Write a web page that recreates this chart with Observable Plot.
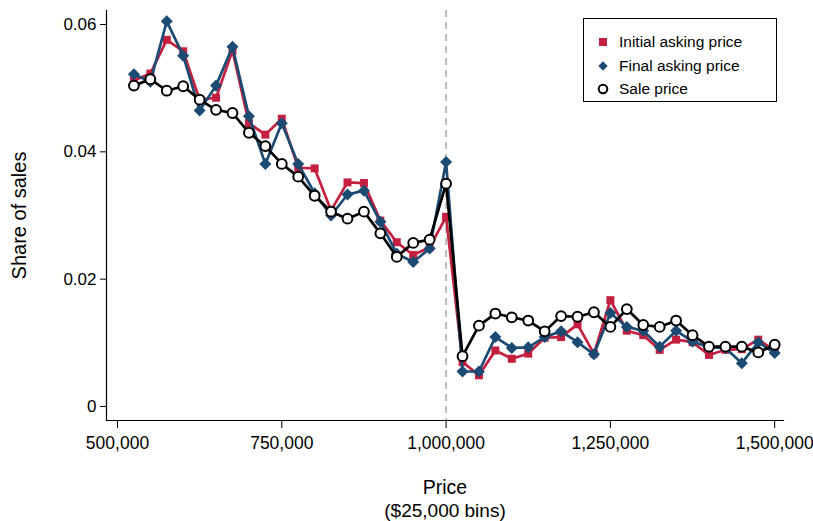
<!DOCTYPE html>
<html><head><meta charset="utf-8">
<script src="https://cdn.jsdelivr.net/npm/d3@7"></script>
<script src="https://cdn.jsdelivr.net/npm/@observablehq/plot@0.6"></script>
<style>
html,body{margin:0;padding:0;background:#fff;}
#wrap{position:relative;width:813px;height:521px;font-family:"Liberation Sans",Arial,Helvetica,sans-serif;}
#legend{position:absolute;left:583px;top:18px;width:194px;height:84px;border:1px solid #000;background:#fff;box-sizing:border-box;}
</style>
</head><body>
<div id="wrap"><div id="legend"></div></div>
<script>
const prices = [525000,550000,575000,600000,625000,650000,675000,700000,725000,750000,
  775000,800000,825000,850000,875000,900000,925000,950000,975000,1000000,
  1025000,1050000,1075000,1100000,1125000,1150000,1175000,1200000,1225000,1250000,
  1275000,1300000,1325000,1350000,1375000,1400000,1425000,1450000,1475000,1500000];
const initialAsking = [0.0512,0.0523,0.0576,0.0558,0.0482,0.0485,0.0559,0.0445,0.0427,0.0452,
  0.0375,0.0374,0.0308,0.0352,0.0351,0.0292,0.0258,0.0238,0.0250,0.0298,
  0.0070,0.0049,0.0088,0.0075,0.0083,0.0108,0.0109,0.0129,0.0083,0.0167,
  0.0119,0.0112,0.0089,0.0105,0.0101,0.0081,0.0089,0.0090,0.0105,0.0088];
const finalAsking = [0.0522,0.0510,0.0605,0.0551,0.0465,0.0504,0.0565,0.0456,0.0381,0.0445,
  0.0381,0.0335,0.0300,0.0333,0.0339,0.0290,0.0240,0.0227,0.0248,0.0384,
  0.0055,0.0055,0.0109,0.0092,0.0093,0.0109,0.0118,0.0101,0.0082,0.0147,
  0.0125,0.0119,0.0094,0.0119,0.0102,0.0093,0.0092,0.0068,0.0101,0.0084];
const salePrice = [0.0504,0.0514,0.0496,0.0503,0.0482,0.0466,0.0461,0.0430,0.0409,0.0381,
  0.0361,0.0331,0.0306,0.0295,0.0306,0.0272,0.0235,0.0257,0.0262,0.0350,
  0.0079,0.0127,0.0146,0.0140,0.0135,0.0118,0.0142,0.0141,0.0148,0.0125,
  0.0153,0.0128,0.0125,0.0135,0.0112,0.0094,0.0094,0.0094,0.0085,0.0097];
const seriesNames = ["Initial asking price","Final asking price","Sale price"];
const xTicks = [500000,750000,1000000,1250000,1500000];
const yTicks = [0,0.02,0.04,0.06];
const threshold = [1000000];
const xTitle = ["Price","($25,000 bins)"];
const yTitle = "Share of sales";

const RED = "#c41f3e", BLUE = "#1b4a73";
const toRows = vals => prices.map((p,i)=>({price:p, share:vals[i]}));
const ini = toRows(initialAsking), fin = toRows(finalAsking), sal = toRows(salePrice);

const chart = Plot.plot({
  width: 813, height: 521,
  marginLeft: 106, marginRight: 30, marginTop: 10, marginBottom: 101,
  style: {fontFamily: '"Liberation Sans",Arial,Helvetica,sans-serif', fontSize: "17px", color:"#000", background:"#fff"},
  x: {domain: [483300, 1513400]},
  y: {domain: [-0.0022, 0.0622]},
  marks: [
    Plot.ruleX(threshold, {stroke: "#aaaaaa", strokeWidth: 1.5, strokeDasharray: "7,5"}),
    Plot.frame({anchor: "left", stroke: "#000", strokeWidth: 1.2}),
    Plot.frame({anchor: "bottom", stroke: "#000", strokeWidth: 1.2}),
    Plot.axisX({ticks: xTicks, tickFormat: d3.format(","), tickSize: 8, tickPadding: 8, label: null, fontSize: 17.5, stroke:"#000"}),
    Plot.axisY({ticks: yTicks, tickFormat: d => d === 0 ? "0" : d.toFixed(2), tickSize: 6, tickPadding: 4, label: null, fontSize: 17, stroke:"#000"}),
    Plot.axisY({ticks: [], label: yTitle, labelAnchor: "center", labelArrow: "none", labelOffset: 95, fontSize: 20}),
    Plot.text([xTitle[0]], {text: d => d, frameAnchor: "bottom", lineAnchor: "middle", dy: 67, fontSize: 19.5, fill: "#000"}),
    Plot.text([xTitle[1]], {text: d => d, frameAnchor: "bottom", lineAnchor: "middle", dy: 90, fontSize: 19, fill: "#000"}),
    Plot.line(ini, {x: "price", y: "share", stroke: RED, strokeWidth: 2.7}),
    Plot.dot(ini, {x: "price", y: "share", symbol: "square", r: 4.5, fill: RED, stroke: null}),
    Plot.line(fin, {x: "price", y: "share", stroke: BLUE, strokeWidth: 2.7}),
    Plot.dot(fin, {x: "price", y: "share", symbol: "square", rotate: 45, r: 4.8, fill: BLUE, stroke: null}),
    Plot.line(sal, {x: "price", y: "share", stroke: "#000", strokeWidth: 2.7}),
    Plot.dot(sal, {x: "price", y: "share", symbol: "circle", r: 4.9, fill: "#fff", stroke: "#000", strokeWidth: 2})
  ]
});
document.getElementById("wrap").prepend(chart);

// legend
const lg = d3.select("#legend").append("svg").attr("width", 192).attr("height", 82)
  .style("font-family", '"Liberation Sans",Arial,Helvetica,sans-serif');
const rowsY = [23, 47, 70];
const sym = [
  g => g.append("rect").attr("x", -4).attr("y", -4).attr("width", 8).attr("height", 8).attr("fill", RED),
  g => g.append("rect").attr("x", -3.3).attr("y", -3.3).attr("width", 6.6).attr("height", 6.6).attr("fill", BLUE).attr("transform", "rotate(45)"),
  g => g.append("circle").attr("r", 4.3).attr("fill", "#fff").attr("stroke", "#000").attr("stroke-width", 2)
];
seriesNames.forEach((name, i) => {
  const g = lg.append("g").attr("transform", `translate(19,${rowsY[i]})`);
  sym[i](g);
  lg.append("text").attr("x", 35).attr("y", rowsY[i]).attr("dy", "0.35em").attr("font-size", 15.5).attr("fill", "#000").text(name);
});
</script>
</body></html>
